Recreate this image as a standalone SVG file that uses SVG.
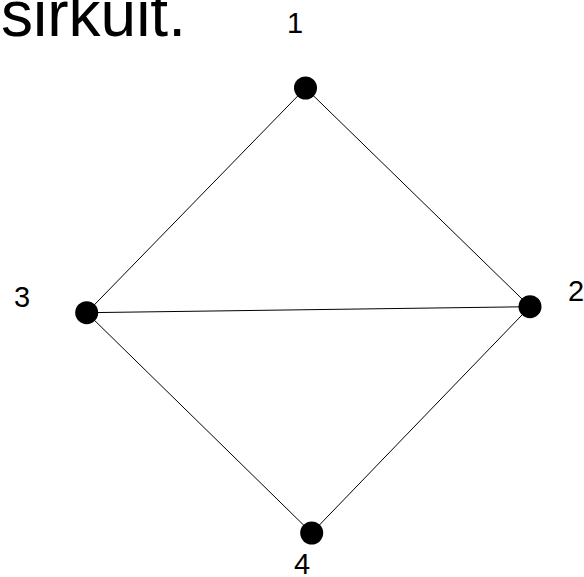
<svg xmlns="http://www.w3.org/2000/svg" width="584" height="577" viewBox="0 0 584 577">
<style>
  .edge { stroke: #000; stroke-width: 1; fill: none; }
  .node { fill: #000; }
  .lbl { font-family: "Liberation Sans", Arial, sans-serif; font-size: 29px; fill: #000; }
  .title { font-family: "Liberation Sans", Arial, sans-serif; font-size: 64px; fill: #000; }
</style>
<rect width="584" height="577" fill="#fff"/>
<text class="title" x="1" y="35.5">sirkuit.</text>
<g id="connectors">
  <line class="edge" x1="305.5" y1="88" x2="530" y2="306.7"/>
  <line class="edge" x1="305.5" y1="88" x2="86.7" y2="312.7"/>
  <line class="edge" x1="86.7" y1="312.7" x2="530" y2="306.7"/>
  <line class="edge" x1="86.7" y1="312.7" x2="311.7" y2="533"/>
  <line class="edge" x1="311.7" y1="533" x2="530" y2="306.7"/>
</g>
<g id="node1"><circle class="node" cx="305.5" cy="88" r="11.5"/><text class="lbl" x="287" y="32.5">1</text></g>
<g id="node2"><circle class="node" cx="530" cy="306.7" r="11.5"/><text class="lbl" x="568" y="301">2</text></g>
<g id="node3"><circle class="node" cx="86.7" cy="312.7" r="11.5"/><text class="lbl" x="14" y="307">3</text></g>
<g id="node4"><circle class="node" cx="311.7" cy="533" r="11.5"/><text class="lbl" x="294" y="574">4</text></g>
</svg>
